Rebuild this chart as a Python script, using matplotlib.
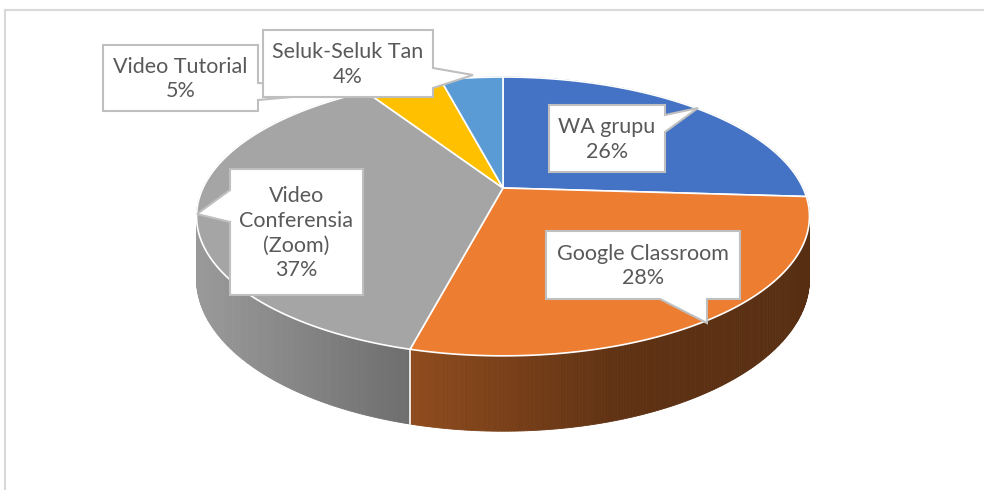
import numpy as np
import matplotlib.pyplot as plt
from matplotlib.patches import Polygon

# data
labels = ['WA grupu', 'Google Classroom', 'Video\nConferensia\n(Zoom)', 'Video Tutorial', 'Seluk-Seluk Tan']
values = [26, 28, 37, 5, 4]
colors = ['#4472C4', '#ED7D31', '#A5A5A5', '#FFC000', '#5B9BD5']

# 3d pie projection (pixel space, y down)
cx, cy = 503, 188
rx, ry = 300, 133.6
p = 0.204
depth = 60


def proj(t, drop=0.0):
    u = np.sin(t)
    v = np.cos(t)
    w = 1 / (1 + p * v)
    return cx + rx * u * w, cy - ry * v * w + drop * w


def shade(i, x):
    if i == 2:
        return np.interp(x, [200, 415], [0.93, 0.66])
    if i == 1:
        return np.interp(x, [415, 620, 807], [0.60, 0.40, 0.37])
    return 0.6


fig = plt.figure(figsize=(9.84, 4.90), dpi=100)
ax = fig.add_axes([0, 0, 1, 1])
ax.set_xlim(0, 984)
ax.set_ylim(490, 0)
ax.axis('off')

# chart frame
ax.plot([5, 5], [10, 490], color='#D9D9D9', lw=1.5)
ax.plot([5, 984], [10, 10], color='#D9D9D9', lw=1.5)

vals = np.array(values, dtype=float)
bounds = np.concatenate([[0], np.cumsum(vals)]) / vals.sum() * 2 * np.pi

# side strips, far to near
strips = []
for i in range(len(vals)):
    ts = np.linspace(bounds[i], bounds[i + 1], max(int(np.degrees(bounds[i + 1] - bounds[i]) * 2), 2))
    for t0, t1 in zip(ts[:-1], ts[1:]):
        a = proj(t0)
        b = proj(t1)
        c = proj(t1, depth)
        d = proj(t0, depth)
        f = shade(i, (a[0] + b[0]) / 2)
        rgb = np.array(plt.matplotlib.colors.to_rgb(colors[i])) * f
        strips.append((np.cos((t0 + t1) / 2), [a, b, c, d], rgb))
strips.sort(key=lambda s: -s[0])
for _, pts, rgb in strips:
    ax.add_patch(Polygon(pts, closed=True, facecolor=rgb, edgecolor=rgb, lw=0.6))

# white seams on the side at visible slice boundaries
for t in bounds[1:-1]:
    if np.cos(t) < -p:
        x0, y0 = proj(t)
        x1, y1 = proj(t, depth)
        ax.plot([x0, x1], [y0, y1], color='white', lw=1.2)

# top face
for i in range(len(vals)):
    ts = np.linspace(bounds[i], bounds[i + 1], 200)
    pts = [(cx, cy)] + [proj(t) for t in ts]
    ax.add_patch(Polygon(pts, closed=True, facecolor=colors[i], edgecolor='white', lw=1.2, joinstyle='round'))


# callouts
def callout(box, side, base, tip, text):
    x0, y0, x1, y1 = box
    if side == 'right':
        pts = [(x0, y0), (x1, y0), (x1, base[0]), tip, (x1, base[1]), (x1, y1), (x0, y1)]
    elif side == 'bottom':
        pts = [(x0, y0), (x1, y0), (x1, y1), (base[1], y1), tip, (base[0], y1), (x0, y1)]
    else:
        pts = [(x0, y0), (x1, y0), (x1, y1), (x0, y1), (x0, base[1]), tip, (x0, base[0])]
    ax.add_patch(Polygon(pts, closed=True, facecolor='white', edgecolor='#BFBFBF', lw=1.5, zorder=5))
    ax.text((x0 + x1) / 2, (y0 + y1) / 2 + 1, text, ha='center', va='center', fontsize=15.5,
            family='Lato', color='#595959', linespacing=1.3, zorder=6)


pct = [f'{v / vals.sum() * 100:.0f}%' for v in vals]
callout((549, 105, 665, 172), 'right', (115, 132), (698, 108), labels[0] + '\n' + pct[0])
callout((546, 231, 740, 299), 'bottom', (660, 707), (707, 323), labels[1] + '\n' + pct[1])
callout((230, 169, 363, 295), 'left', (190, 222), (197, 214), labels[2] + '\n' + pct[2])
callout((103, 45, 258, 111), 'right', (83, 100), (370, 90), labels[3] + '\n' + pct[3])
callout((263, 30, 433, 97), 'right', (68, 88), (473, 75), labels[4] + '\n' + pct[4])

fig.savefig('out.png', dpi=100)
